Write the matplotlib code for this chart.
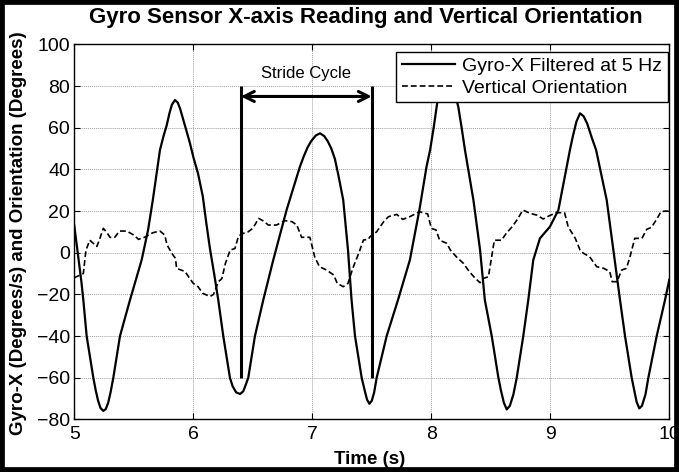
import matplotlib.pyplot as plt
from matplotlib.patches import Rectangle
import numpy as np

plt.rcParams['font.family'] = ['Liberation Sans', 'DejaVu Sans']

# gyro-x filtered at 5 Hz (deg/s)
gyro_t = [5.00, 5.02, 5.04, 5.06, 5.076, 5.104, 5.16, 5.18, 5.20, 5.22, 5.244, 5.265,
          5.285, 5.305, 5.328, 5.384, 5.468, 5.566, 5.62, 5.66, 5.72, 5.75, 5.776, 5.80,
          5.82, 5.846, 5.87, 5.89, 5.915, 5.94, 5.97, 6.00, 6.04, 6.08, 6.11, 6.14, 6.175,
          6.21, 6.252, 6.308, 6.33, 6.36, 6.393, 6.42, 6.44, 6.462, 6.518, 6.588, 6.672,
          6.784, 6.896, 6.93, 6.96, 6.99, 7.03, 7.065, 7.10, 7.13, 7.16, 7.19, 7.22, 7.26,
          7.30, 7.33, 7.359, 7.415, 7.44, 7.46, 7.48, 7.50, 7.52, 7.541, 7.625, 7.72, 7.82,
          7.90, 7.96, 7.99, 8.02, 8.05, 8.08, 8.11, 8.14, 8.17, 8.20, 8.227, 8.255, 8.283,
          8.354, 8.41, 8.45, 8.508, 8.564, 8.585, 8.61, 8.634, 8.66, 8.69, 8.718, 8.773,
          8.815, 8.857, 8.913, 8.997, 9.068, 9.138, 9.165, 9.19, 9.22, 9.25, 9.28, 9.31,
          9.35, 9.385, 9.474, 9.53, 9.586, 9.628, 9.684, 9.705, 9.725, 9.748, 9.77, 9.80,
          9.824, 9.894, 9.964, 10.0]
gyro_v = [13, 4, -5, -14, -22.7, -40, -60, -66, -71, -74.5, -75.9, -75,
          -72, -67, -60, -40, -22.7, -3.5, 10.9, 25.3, 49.3, 56, 61, 67,
          71, 73.3, 72, 69, 64, 59, 53, 46, 38, 27, 14, 2, -10,
          -22.7, -40, -60, -64, -67, -67.8, -66.5, -63.5, -60, -40, -22.7, -3.5,
          20.5, 41.3, 46.5, 50.5, 53.5, 56.3, 57.3, 56, 53.5, 50, 45, 37, 25.3,
          1.3, -22.7, -40, -60, -66, -70.5, -72.5, -71, -67, -60, -40, -22.7, -3.5,
          20.5, 41.3, 49.3, 60, 72, 80, 85, 86, 82, 76, 70, 60, 49.3,
          25.3, 1.3, -22.7, -40, -60, -66, -72, -75.2, -73.5, -68, -60, -40,
          -22.7, -3.5, 6.9, 12.5, 20.5, 41.3, 49.3, 56, 63, 66.9, 65.5, 62,
          55, 49.3, 25.3, 1.3, -22.7, -40, -60, -66, -71.5, -74.7, -73.5, -68,
          -60, -40, -22.7, -13]

# vertical orientation (deg)
ori_t = [5.00, 5.076, 5.098, 5.11, 5.13, 5.19, 5.216, 5.244, 5.27, 5.30, 5.34, 5.38,
         5.44, 5.50, 5.54, 5.59, 5.66, 5.72, 5.76, 5.78, 5.82, 5.85, 5.86, 5.93, 5.96,
         6.00, 6.04, 6.08, 6.14, 6.17, 6.21, 6.24, 6.27, 6.31, 6.35, 6.38, 6.42, 6.46,
         6.50, 6.55, 6.59, 6.63, 6.70, 6.77, 6.83, 6.87, 6.91, 6.98, 7.02, 7.06, 7.12,
         7.18, 7.21, 7.26, 7.30, 7.34, 7.39, 7.43, 7.47, 7.485, 7.54, 7.60, 7.64, 7.71,
         7.76, 7.82, 7.90, 7.97, 8.00, 8.04, 8.07, 8.13, 8.16, 8.21, 8.27, 8.32, 8.37,
         8.41, 8.44, 8.48, 8.53, 8.59, 8.63, 8.68, 8.72, 8.77, 8.83, 8.89, 8.94, 8.99,
         9.05, 9.12, 9.15, 9.21, 9.25, 9.28, 9.33, 9.39, 9.45, 9.50, 9.52, 9.56, 9.60,
         9.64, 9.67, 9.71, 9.77, 9.81, 9.85, 9.89, 9.93, 9.97, 10.0]
ori_v = [-12, -10, 1.3, 3, 6, 3, 7, 11.7, 10, 7.4, 7.4, 10.4,
         10.4, 8.5, 6.4, 7.4, 9.6, 10.4, 8.5, 3.7, -0.3, -2.7, -7.5, -9, -11.5,
         -14.7, -16.3, -19.5, -21, -20, -14, -12.4, -5.1, 1.3, 2, 8, 9.3, 10,
         11.7, 16.5, 15.2, 13.3, 13.3, 15.4, 14.9, 13.3, 7.4, 7.4, -1.9, -6.7, -8.3,
         -10.7, -14.7, -16.3, -14.7, -7.5, -0.3, 6.1, 6.4, 7.7, 10, 14.9, 17.3, 18.4,
         16, 17.3, 19.7, 18.6, 11.7, 10.9, 6, 4.5, 1.3, -1.9, -5.1, -9.1, -12.3,
         -14.4, -12.3, -11.5, 6, 6, 9.3, 12.5, 15.7, 20.5, 18.9, 18, 16.2, 17.7,
         19.2, 19.2, 12.5, 6.9, 1.3, -0.3, -1.9, -6.7, -7.5, -9.1, -13.9, -13.9, -8.3,
         -7.5, -1.9, 6.9, 6.9, 11.2, 12.2, 15.7, 19.7, 20, 20]

stride_start, stride_end = 6.4, 7.5
stride_top, stride_bottom = 80, -60

fig = plt.figure(figsize=(6.79, 4.72), dpi=100)
ax = fig.add_axes([0.1094, 0.1114, 0.8763, 0.7946])

ax.plot(gyro_t, gyro_v, color='k', lw=1.6, label='Gyro-X Filtered at 5 Hz', zorder=3)
ax.plot(ori_t, ori_v, color='k', lw=1.2, ls=(0, (3.5, 1.8)), label='Vertical Orientation', zorder=3)

# stride cycle marker
ax.vlines([stride_start, stride_end], stride_bottom, stride_top, color='k', lw=2.2, zorder=4)
ax.annotate('', xy=(stride_end, 75), xytext=(stride_start, 75),
            arrowprops=dict(arrowstyle='<->', color='k', lw=2.2, mutation_scale=18,
                            shrinkA=0, shrinkB=0), zorder=4)
ax.text((stride_start + stride_end) / 2, 86, 'Stride Cycle', ha='center', va='center',
        fontsize=12, zorder=4)

ax.set_xlim(5, 10)
ax.set_ylim(-80, 100)
ax.set_xticks(np.arange(5, 10.1, 1))
ax.set_yticks(np.arange(-80, 101, 20))
ax.tick_params(direction='in', top=True, right=True, labelsize=14, length=4)
ax.tick_params(axis='x', pad=5)
ax.tick_params(axis='y', pad=3)
ax.grid(True, color='#a0a0a0', ls=(0, (1, 1)), lw=0.7)
for s in ax.spines.values():
    s.set_linewidth(1.0)

leg = ax.legend(loc='upper right', bbox_to_anchor=(0.9983, 0.9805), fontsize=14,
                frameon=True, fancybox=False, framealpha=1, edgecolor='k',
                handlelength=2.7, handletextpad=0.4, borderpad=0.3, labelspacing=0.2,
                borderaxespad=0)
leg.get_frame().set_linewidth(1.0)
leg.set_zorder(5)

fig.text(0.539, 0.962, 'Gyro Sensor X-axis Reading and Vertical Orientation',
         ha='center', va='center', fontsize=16, fontweight='bold')
fig.text(0.545, 0.026, 'Time (s)', ha='center', va='center', fontsize=13.5, fontweight='bold')
fig.text(0.027, 0.505, 'Gyro-X (Degrees/s) and Orientation (Degrees)', ha='center', va='center',
         rotation=90, fontsize=13.5, fontweight='bold')

fig.patches.append(Rectangle((0, 0), 1, 1, transform=fig.transFigure, fill=False,
                             edgecolor='k', lw=7))

fig.savefig('out.png', dpi=100)
